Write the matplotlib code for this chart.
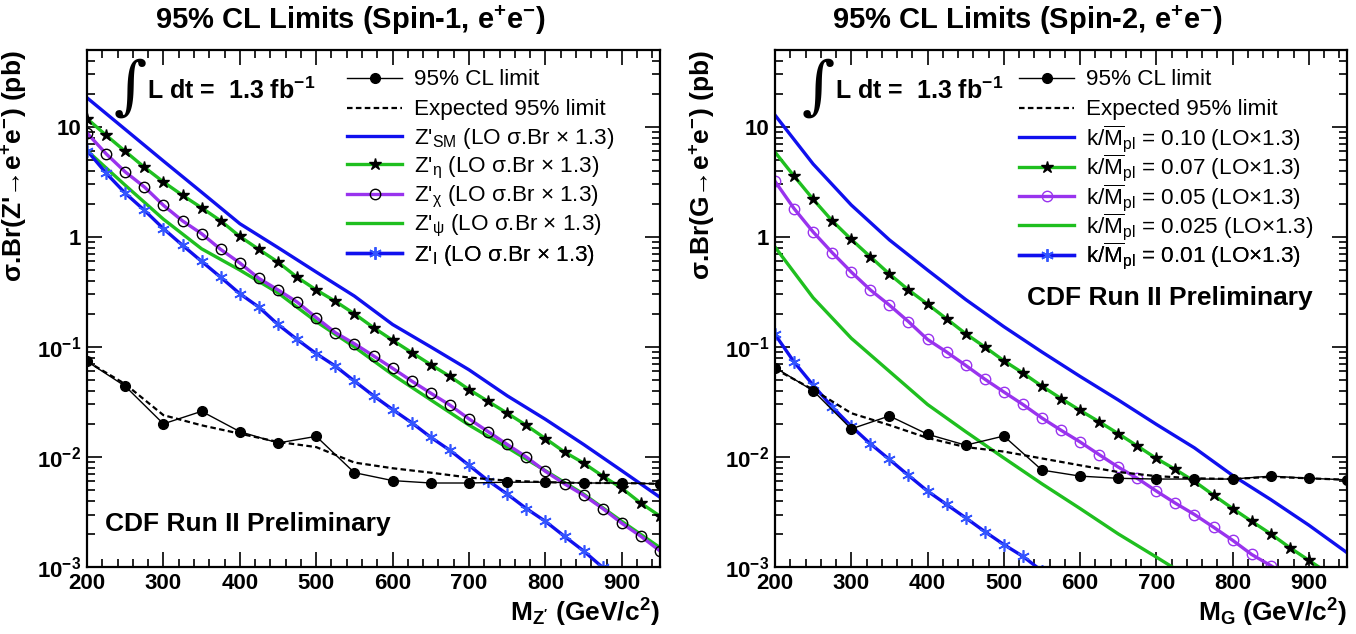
import math

import matplotlib
matplotlib.use("Agg")
import matplotlib.pyplot as plt
from matplotlib.lines import Line2D
from matplotlib.ticker import FixedLocator, FuncFormatter, LogLocator, NullFormatter

plt.rcParams.update({
    "font.family": ["Liberation Sans", "DejaVu Sans"],
    "mathtext.fontset": "custom",
    "mathtext.rm": "Liberation Sans",
    "mathtext.it": "Liberation Sans:italic",
    "mathtext.bf": "Liberation Sans:bold",
    "axes.linewidth": 1.6,
})

BLUE = "#1010ee"
GREEN = "#1fbf1f"
PURPLE = "#9933ee"
STAR_BLUE = "#3355ff"

# ---- limits (pb), 50 GeV steps ----
MASS_LIM = [200, 250, 300, 350, 400, 450, 500, 550, 600, 650, 700, 750, 800, 850, 900, 950]
OBS_SPIN1 = [0.074, 0.044, 0.020, 0.026, 0.017, 0.0134, 0.0154, 0.0072, 0.0061, 0.0058,
             0.0058, 0.0059, 0.0059, 0.0058, 0.0058, 0.0057]
EXP_SPIN1 = [0.074, 0.046, 0.024, 0.0194, 0.0163, 0.0137, 0.0123, 0.0089, 0.0079, 0.0072,
             0.0065, 0.0061, 0.0059, 0.0058, 0.0058, 0.0057]
OBS_SPIN2 = [0.065, 0.040, 0.018, 0.0236, 0.0161, 0.0128, 0.0155, 0.0076, 0.0067, 0.0064,
             0.0063, 0.0063, 0.0063, 0.0067, 0.0064, 0.0062]
EXP_SPIN2 = [0.063, 0.041, 0.025, 0.0195, 0.0149, 0.0123, 0.0112, 0.0097, 0.0084, 0.0073,
             0.0067, 0.0064, 0.0063, 0.0066, 0.0064, 0.0062]

# ---- model cross sections x BR (pb) ----
MASS_50 = [200, 250, 300, 350, 400, 450, 500, 550, 600, 650, 700, 750, 800, 850, 900, 950]
MASS_25 = [200, 225, 250, 275, 300, 325, 350, 375, 400, 425, 450, 475, 500, 525, 550, 575,
           600, 625, 650, 675, 700, 725, 750, 775, 800, 825, 850, 875, 900, 925, 950]

ZP_SM = [18.4, 9.5, 4.9, 2.55, 1.32, 0.80, 0.48, 0.29, 0.16, 0.10, 0.062, 0.036, 0.022,
         0.013, 0.0075, 0.0043]
ZP_PSI = [6.1, 2.95, 1.45, 0.78, 0.50, 0.31, 0.17, 0.10, 0.056, 0.033, 0.0195, 0.0122,
          0.0075, 0.0046, 0.0026, 0.0015]
ZP_ETA = [11.9, 8.4, 6.0, 4.3, 3.16, 2.39, 1.84, 1.40, 1.01, 0.77, 0.59, 0.43, 0.33, 0.26,
          0.20, 0.15, 0.115, 0.089, 0.069, 0.054, 0.041, 0.032, 0.025, 0.0194, 0.0147,
          0.0111, 0.0088, 0.0067, 0.0052, 0.0038, 0.0029]
ZP_CHI = [8.8, 5.7, 3.9, 2.85, 1.94, 1.4, 1.07, 0.77, 0.58, 0.42, 0.33, 0.256, 0.185, 0.135,
          0.107, 0.083, 0.064, 0.049, 0.038, 0.0296, 0.0222, 0.017, 0.013, 0.0100, 0.0074,
          0.0057, 0.0045, 0.0034, 0.0025, 0.0019, 0.0014]
ZP_I = [6.1, 3.8, 2.5, 1.75, 1.19, 0.84, 0.60, 0.43, 0.305, 0.23, 0.16, 0.117, 0.087, 0.067,
        0.049, 0.036, 0.027, 0.0205, 0.0151, 0.0115, 0.0084, 0.0061, 0.0046, 0.0034, 0.0026,
        0.0019, 0.0014, 0.00099, 0.0007, 0.0005, 0.00035]

RS_010 = [12.8, 4.6, 1.95, 0.94, 0.50, 0.27, 0.153, 0.090, 0.054, 0.033, 0.0198, 0.0121,
          0.0068, 0.0041, 0.0024, 0.00135]
RS_0025 = [0.81, 0.28, 0.12, 0.060, 0.030, 0.017, 0.0098, 0.0057, 0.0034, 0.0020, 0.00123,
           0.00075, 0.00044, 0.00026, 0.00015, 0.00009]
RS_007 = [5.9, 3.57, 2.2, 1.40, 0.95, 0.66, 0.46, 0.33, 0.245, 0.18, 0.132, 0.100, 0.075,
          0.058, 0.044, 0.034, 0.0265, 0.0209, 0.0163, 0.0126, 0.0097, 0.0077, 0.0060,
          0.0045, 0.0034, 0.0026, 0.0020, 0.0015, 0.00115, 0.00088, 0.00066]
RS_005 = [3.2, 1.81, 1.11, 0.72, 0.48, 0.33, 0.24, 0.17, 0.117, 0.090, 0.068, 0.051, 0.039,
          0.030, 0.0226, 0.0175, 0.0137, 0.0105, 0.0081, 0.0064, 0.0049, 0.0038, 0.0030,
          0.0023, 0.00175, 0.0013, 0.00103, 0.0008, 0.0006, 0.00046, 0.00035]
MASS_RS001 = [200, 225, 250, 275, 300, 325, 350, 375, 400, 425, 450, 475, 500, 525, 550, 575, 600]
RS_001 = [0.13, 0.073, 0.045, 0.0285, 0.019, 0.0132, 0.0095, 0.0068, 0.0049, 0.0037, 0.0028,
          0.0021, 0.0016, 0.00125, 0.00092, 0.0007, 0.00055]

ASTERISK = (6, 2, 0)
LW = 2.4
DOTS = (0, (2.5, 1.5))

# legend rows, axes-fraction heights (one row per entry, evenly spaced)
LEGEND_ROWS = [0.942, 0.884, 0.829, 0.772, 0.715, 0.659, 0.602]

# shared line/marker styles: limit, expected, then the model curves
STYLE_LIMIT = dict(color="black", lw=1.0, marker="o", ms=7)
STYLE_EXP = dict(color="black", lw=1.6, ls=DOTS)
STYLE_TOP = dict(color=BLUE, lw=LW)
STYLE_STAR = dict(color=GREEN, lw=LW, marker="*", ms=9, mec="black", mfc="black")
STYLE_PLAIN_GREEN = dict(color=GREEN, lw=LW)
STYLE_AST = dict(color=BLUE, lw=LW, marker=ASTERISK, ms=9, mew=1.2, mec=STAR_BLUE, mfc=STAR_BLUE)


def style_circle(edge):
    return dict(color=PURPLE, lw=LW, marker="o", ms=7.5, mew=1.0, mfc="none", mec=edge)


def decade_label(v, _pos):
    if v >= 10:
        return "10"
    if v >= 1:
        return "1"
    return r"10$^{\mathbf{%d}}$" % int(round(math.log10(v)))


def style_axes(ax):
    ax.set_xlim(200, 950)
    ax.set_yscale("log")
    ax.set_ylim(1e-3, 50)
    ax.xaxis.set_major_locator(FixedLocator([200, 300, 400, 500, 600, 700, 800, 900]))
    ax.xaxis.set_minor_locator(FixedLocator(list(range(200, 951, 20))))
    ax.yaxis.set_major_locator(LogLocator(base=10, numticks=10))
    ax.yaxis.set_minor_locator(LogLocator(base=10, subs=range(2, 10), numticks=10))
    ax.yaxis.set_major_formatter(FuncFormatter(decade_label))
    ax.yaxis.set_minor_formatter(NullFormatter())
    ax.tick_params(which="both", direction="in", top=True, right=True, width=1.2)
    ax.tick_params(which="major", length=11, labelsize=16, pad=4)
    ax.tick_params(which="minor", length=5.5)
    for lab in ax.get_xticklabels() + ax.get_yticklabels():
        lab.set_fontweight("bold")


def draw_limits(ax, obs, exp):
    ax.plot(MASS_LIM, obs, zorder=6, **STYLE_LIMIT)
    ax.plot(MASS_LIM, exp, zorder=5, **STYLE_EXP)


def lumi_text(ax):
    ax.text(0.075, 0.924, "\u222b", transform=ax.transAxes, fontsize=46,
            family=["DejaVu Serif", "DejaVu Sans"], ha="center", va="center")
    ax.text(0.105, 0.921, "L dt =  1.3 fb$^{\\mathbf{-1}}$", transform=ax.transAxes,
            fontsize=18, fontweight="bold", ha="left", va="center")


def row_legends(ax, styles, labels, x0):
    for style, label, y in zip(styles, labels, LEGEND_ROWS):
        leg = ax.legend([Line2D([], [], **style)], [label], loc="center left",
                        bbox_to_anchor=(x0, y), frameon=False, fontsize=16.2,
                        handlelength=2.45, handletextpad=0.5, borderpad=0,
                        borderaxespad=0)
        ax.add_artist(leg)


fig = plt.figure(figsize=(13.56, 6.34), dpi=100)
ax1 = fig.add_axes([87 / 1356, 67 / 634, 573 / 1356, 517 / 634])
ax2 = fig.add_axes([775 / 1356, 67 / 634, 572 / 1356, 517 / 634])

# ---------------- Spin-1 ----------------
ax1.plot(MASS_50, ZP_SM, **STYLE_TOP)
ax1.plot(MASS_50, ZP_PSI, **STYLE_PLAIN_GREEN)
ax1.plot(MASS_25, ZP_I, **STYLE_AST)
ax1.plot(MASS_25, ZP_CHI, **style_circle("black"))
ax1.plot(MASS_25, ZP_ETA, **STYLE_STAR)
draw_limits(ax1, OBS_SPIN1, EXP_SPIN1)
style_axes(ax1)
lumi_text(ax1)
ax1.text(0.031, 0.083, "CDF Run II Preliminary", transform=ax1.transAxes, fontsize=19,
         fontweight="bold", ha="left", va="center")

styles1 = [STYLE_LIMIT, STYLE_EXP, STYLE_TOP, STYLE_STAR, style_circle("black"),
           STYLE_PLAIN_GREEN, STYLE_AST]
labels1 = [
    "95% CL limit",
    "Expected 95% limit",
    "Z'$_{\\mathrm{SM}}$ (LO \u03c3.Br $\\times$ 1.3)",
    "Z'$_{\\mathrm{\u03b7}}$ (LO \u03c3.Br $\\times$ 1.3)",
    "Z'$_{\\mathrm{\u03c7}}$ (LO \u03c3.Br $\\times$ 1.3)",
    "Z'$_{\\mathrm{\u03c8}}$ (LO \u03c3.Br $\\times$ 1.3)",
    "Z'$_{\\mathrm{I}}$ (LO \u03c3.Br $\\times$ 1.3)",
]
row_legends(ax1, styles1, labels1, 0.454)
ax1.set_ylabel("\u03c3.Br(Z'\u2192e$^{\\mathbf{+}}$e$^{\\mathbf{-}}$) (pb)", fontsize=19,
               fontweight="bold", loc="top", labelpad=6)
ax1.set_xlabel("M$_{\\mathbf{Z'}}$ (GeV/c$^{\\mathbf{2}}$)", fontsize=19, fontweight="bold",
               loc="right", labelpad=2)

# ---------------- Spin-2 ----------------
ax2.plot(MASS_50, RS_010, **STYLE_TOP)
ax2.plot(MASS_50, RS_0025, **STYLE_PLAIN_GREEN)
ax2.plot(MASS_RS001, RS_001, **STYLE_AST)
ax2.plot(MASS_25, RS_005, **style_circle(PURPLE))
ax2.plot(MASS_25, RS_007, markevery=slice(1, None), **STYLE_STAR)
draw_limits(ax2, OBS_SPIN2, EXP_SPIN2)
style_axes(ax2)
lumi_text(ax2)
ax2.text(0.44, 0.52, "CDF Run II Preliminary", transform=ax2.transAxes, fontsize=19,
         fontweight="bold", ha="left", va="center")

styles2 = [STYLE_LIMIT, STYLE_EXP, STYLE_TOP, STYLE_STAR, style_circle(PURPLE),
           STYLE_PLAIN_GREEN, STYLE_AST]
kpl = "k/$\\overline{\\mathrm{M}}_{\\mathrm{pl}}$"
labels2 = [
    "95% CL limit",
    "Expected 95% limit",
    kpl + " = 0.10 (LO$\\times$1.3)",
    kpl + " = 0.07 (LO$\\times$1.3)",
    kpl + " = 0.05 (LO$\\times$1.3)",
    kpl + " = 0.025 (LO$\\times$1.3)",
    kpl + " = 0.01 (LO$\\times$1.3)",
]
row_legends(ax2, styles2, labels2, 0.427)
ax2.set_ylabel("\u03c3.Br(G\u2192e$^{\\mathbf{+}}$e$^{\\mathbf{-}}$) (pb)", fontsize=19,
               fontweight="bold", loc="top", labelpad=6)
ax2.set_xlabel("M$_{\\mathbf{G}}$ (GeV/c$^{\\mathbf{2}}$)", fontsize=19, fontweight="bold",
               loc="right", labelpad=2)

fig.text(350 / 1356, 1 - 29 / 634, "95% CL Limits (Spin-1, e$^{\\mathbf{+}}$e$^{\\mathbf{-}}$)",
         fontsize=21, fontweight="bold", ha="center", va="baseline")
fig.text(1027 / 1356, 1 - 29 / 634, "95% CL Limits (Spin-2, e$^{\\mathbf{+}}$e$^{\\mathbf{-}}$)",
         fontsize=21, fontweight="bold", ha="center", va="baseline")

fig.savefig("out.png", dpi=100)
